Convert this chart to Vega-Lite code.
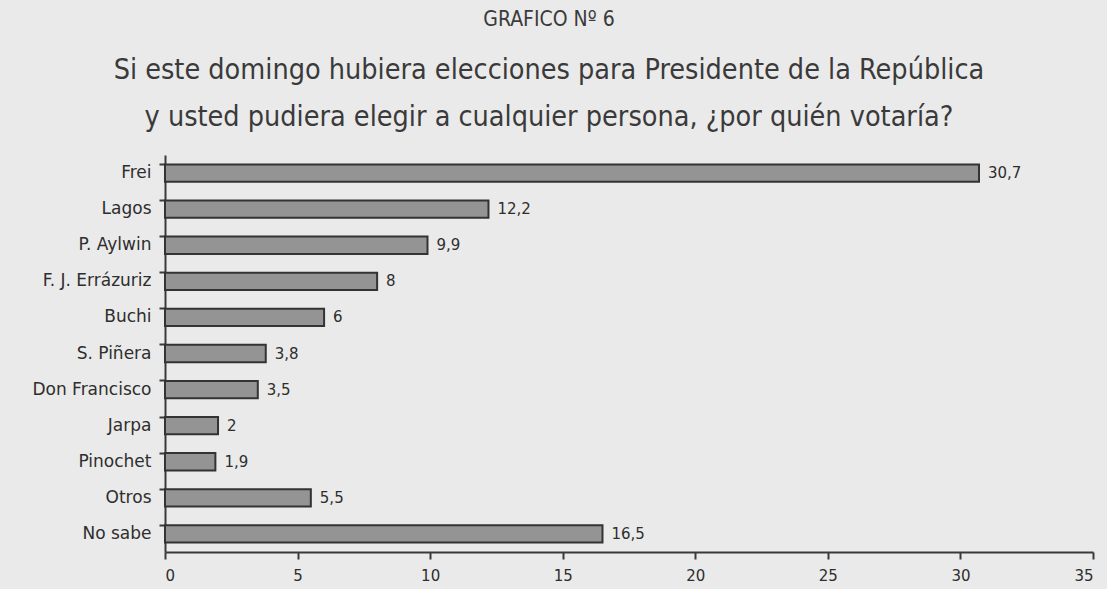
{
  "$schema": "https://vega.github.io/schema/vega-lite/v6.json",
  "width": 928,
  "height": 397,
  "autosize": "none",
  "padding": {"left": 165, "top": 155, "right": 14, "bottom": 37},
  "background": "#eaeaea",
  "config": {
    "view": {"stroke": null},
    "locale": {"number": {"decimal": ",", "thousands": ".", "grouping": [3], "currency": ["$", ""]}}
  },
  "title": {
    "text": "GRAFICO Nº 6",
    "subtitle": ["Si este domingo hubiera elecciones para Presidente de la República", "y usted pudiera elegir a cualquier persona, ¿por quién votaría?"],
    "anchor": "middle",
    "frame": "bounds",
    "dx": -14,
    "font": "DejaVu Sans Condensed",
    "fontSize": 21,
    "fontWeight": "normal",
    "color": "#3a3a3a",
    "subtitleFont": "DejaVu Sans Condensed",
    "subtitleFontSize": 28.5,
    "subtitleColor": "#3a3a3a",
    "subtitleLineHeight": 47,
    "subtitlePadding": 26,
    "offset": 24
  },
  "data": {
    "values": [
      {"candidato": "Frei", "pct": 30.7},
      {"candidato": "Lagos", "pct": 12.2},
      {"candidato": "P. Aylwin", "pct": 9.9},
      {"candidato": "F. J. Errázuriz", "pct": 8},
      {"candidato": "Buchi", "pct": 6},
      {"candidato": "S. Piñera", "pct": 3.8},
      {"candidato": "Don Francisco", "pct": 3.5},
      {"candidato": "Jarpa", "pct": 2},
      {"candidato": "Pinochet", "pct": 1.9},
      {"candidato": "Otros", "pct": 5.5},
      {"candidato": "No sabe", "pct": 16.5}
    ]
  },
  "encoding": {
    "y": {
      "field": "candidato",
      "type": "nominal",
      "sort": null,
      "title": null,
      "scale": {"paddingInner": 0.52, "paddingOuter": 0.26},
      "axis": {
        "domainColor": "#3a3a3a",
        "domainWidth": 2,
        "tickColor": "#3a3a3a",
        "tickWidth": 2,
        "tickSize": 6,
        "bandPosition": 0,
        "labelFont": "DejaVu Sans",
        "labelFontSize": 17,
        "labelColor": "#2e2e2e",
        "labelPadding": 8,
        "grid": false
      }
    },
    "x": {
      "field": "pct",
      "type": "quantitative",
      "title": null,
      "scale": {"domain": [0, 35], "nice": false},
      "axis": {
        "values": [0, 5, 10, 15, 20, 25, 30, 35],
        "domainColor": "#3a3a3a",
        "domainWidth": 2,
        "tickColor": "#3a3a3a",
        "tickWidth": 2,
        "tickSize": 7,
        "labelFont": "DejaVu Sans",
        "labelFontSize": 15,
        "labelColor": "#2e2e2e",
        "labelPadding": 9,
        "grid": false,
        "format": "d"
      }
    }
  },
  "layer": [
    {
      "mark": {"type": "bar", "fill": "#949494", "stroke": "#333333", "strokeWidth": 2}
    },
    {
      "mark": {"type": "text", "align": "left", "dx": 9, "font": "DejaVu Sans", "fontSize": 15, "color": "#2e2e2e"},
      "encoding": {"text": {"field": "pct", "type": "quantitative", "format": ".1~f"}}
    }
  ]
}
